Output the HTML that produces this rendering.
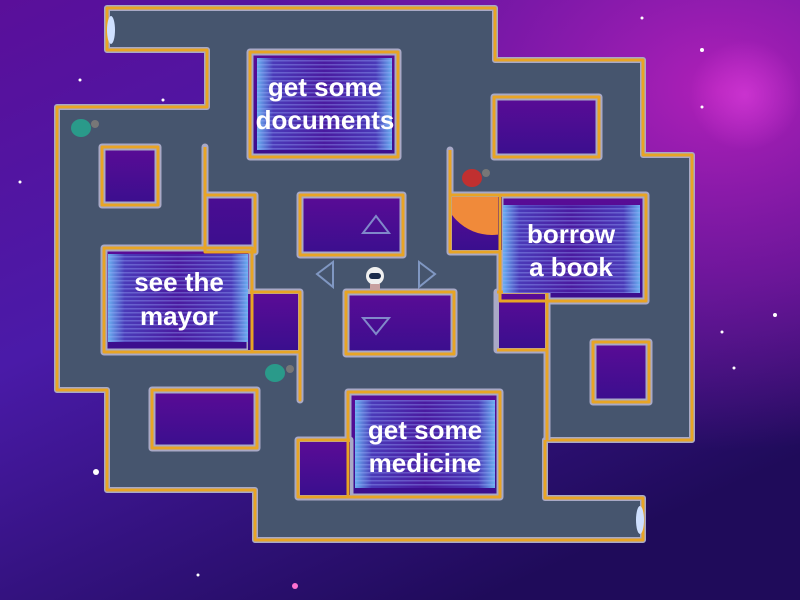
<!DOCTYPE html>
<html><head><meta charset="utf-8"><style>
html,body{margin:0;padding:0;width:800px;height:600px;overflow:hidden;background:#3a1290}
svg{display:block}
.t{font-family:"Liberation Sans Narrow","Liberation Sans",sans-serif;font-weight:bold;fill:#fff;font-size:26px;text-anchor:middle}
</style></head><body>
<svg width="800" height="600" viewBox="0 0 800 600" xmlns="http://www.w3.org/2000/svg">
<defs>
<linearGradient id="bg" x1="0" y1="0" x2="0.6" y2="1">
<stop offset="0" stop-color="#5a0f9a"/><stop offset="0.45" stop-color="#4a1aa8"/><stop offset="1" stop-color="#1f0b5a"/>
</linearGradient>
<radialGradient id="mag" cx="0.9" cy="0.15" r="0.6">
<stop offset="0" stop-color="#b020b8"/><stop offset="0.5" stop-color="#8a18a8" stop-opacity="0.7"/><stop offset="1" stop-color="#8a18a8" stop-opacity="0"/>
</radialGradient>
<radialGradient id="glow" cx="0.5" cy="0.5" r="0.5">
<stop offset="0" stop-color="#e040e0" stop-opacity="0.6"/><stop offset="1" stop-color="#e040e0" stop-opacity="0"/>
</radialGradient>
<linearGradient id="hole" x1="0" y1="0" x2="0" y2="1">
<stop offset="0" stop-color="#5a0c96"/><stop offset="1" stop-color="#3a0e8e"/>
</linearGradient>
<linearGradient id="pan" x1="0" y1="0" x2="1" y2="0">
<stop offset="0" stop-color="#6ab0f0"/><stop offset="0.12" stop-color="#4a3ab8"/><stop offset="0.5" stop-color="#4a1aa0"/><stop offset="0.88" stop-color="#4a3ab8"/><stop offset="1" stop-color="#6ab0f0"/>
</linearGradient>
<pattern id="str" width="4" height="4" patternUnits="userSpaceOnUse"><rect width="4" height="1.5" fill="#a0b0ff" opacity="0.35"/></pattern>
<clipPath id="pc"><rect x="452" y="197" width="46" height="53"/></clipPath>
</defs>
<rect width="800" height="600" fill="url(#bg)"/>
<rect width="800" height="600" fill="url(#mag)"/>
<circle cx="745" cy="95" r="55" fill="url(#glow)"/>
<g fill="#fff">
<circle cx="80" cy="80" r="1.5"/><circle cx="163" cy="100" r="1.5"/><circle cx="20" cy="182" r="1.5"/><circle cx="702" cy="50" r="2"/><circle cx="642" cy="18" r="1.5"/><circle cx="702" cy="107" r="1.5"/><circle cx="775" cy="315" r="2"/><circle cx="722" cy="332" r="1.5"/><circle cx="734" cy="368" r="1.5"/><circle cx="96" cy="472" r="3"/><circle cx="198" cy="575" r="1.5"/><circle cx="295" cy="586" r="3" fill="#ff70d0"/>
</g>
<polygon points="107,8 495,8 495,60 643,60 643,155 692,155 692,440 545,440 545,498 643,498 643,540 255,540 255,490 107,490 107,390 57,390 57,107 207,107 207,50 107,50" fill="#46556e" stroke="#a9a9c6" stroke-width="6" stroke-linejoin="round"/>
<polygon points="107,8 495,8 495,60 643,60 643,155 692,155 692,440 545,440 545,498 643,498 643,540 255,540 255,490 107,490 107,390 57,390 57,107 207,107 207,50 107,50" fill="none" stroke="#e8a424" stroke-width="3" stroke-linejoin="round"/>
<g stroke="#a9a9c6" stroke-width="7" stroke-linejoin="round" fill="url(#hole)">
<rect x="102" y="147" width="56" height="58"/>
<rect x="250" y="52" width="148" height="105"/>
<polygon points="205,147 205,195 255,195 255,252 205,252 205,195"/>
<rect x="300" y="195" width="103" height="60"/>
<rect x="494" y="97" width="105" height="60"/>
<polygon points="450,150 450,252 500,252 500,195 450,195"/>
<rect x="500" y="195" width="146" height="106"/>
<polygon points="497,292 547,292 547,402 547,350 497,350"/>
<rect x="104" y="248" width="148" height="104"/>
<polygon points="250,292 300,292 300,400 300,352 250,352"/>
<rect x="346" y="292" width="108" height="62"/>
<rect x="593" y="342" width="56" height="60"/>
<rect x="152" y="390" width="105" height="58"/>
<rect x="348" y="392" width="152" height="105"/>
<rect x="298" y="440" width="52" height="57"/>
<line x1="547" y1="380" x2="547" y2="440"/>
</g>
<g fill="url(#hole)">
<rect x="452" y="197" width="50" height="53"/>
<rect x="499" y="294" width="46" height="54"/>
<rect x="248" y="294" width="50" height="56"/>
<rect x="300" y="442" width="50" height="53"/>
</g>
<circle cx="492" cy="185" r="50" fill="#f08a3a" clip-path="url(#pc)"/>
<g stroke="#e8a424" stroke-width="3" fill="none" stroke-linejoin="round">
<rect x="102" y="147" width="56" height="58"/>
<rect x="250" y="52" width="148" height="105"/>
<polyline points="205,147 205,195 255,195 255,252 205,252 205,195"/>
<rect x="300" y="195" width="103" height="60"/>
<rect x="494" y="97" width="105" height="60"/>
<polyline points="450,150 450,252 500,252"/>
<polyline points="450,195 500,195"/>
<rect x="500" y="195" width="146" height="106"/>
<polyline points="497,292 547,292 547,402 547,350 497,350"/>
<rect x="104" y="248" width="148" height="104"/>
<polyline points="250,292 300,292 300,400 300,352 250,352"/>
<rect x="346" y="292" width="108" height="62"/>
<rect x="593" y="342" width="56" height="60"/>
<rect x="152" y="390" width="105" height="58"/>
<rect x="348" y="392" width="152" height="105"/>
<polyline points="350,440 298,440 298,497 350,497"/>
<line x1="547" y1="380" x2="547" y2="440"/>
</g>
<g>
<rect x="257" y="58" width="135" height="92" fill="url(#pan)"/><rect x="257" y="58" width="135" height="92" fill="url(#str)"/>
<rect x="503" y="205" width="137" height="88" fill="url(#pan)"/><rect x="503" y="205" width="137" height="88" fill="url(#str)"/>
<rect x="108" y="254" width="140" height="88" fill="url(#pan)"/><rect x="108" y="254" width="140" height="88" fill="url(#str)"/>
<rect x="355" y="400" width="140" height="88" fill="url(#pan)"/><rect x="355" y="400" width="140" height="88" fill="url(#str)"/>
</g>
<text class="t" x="325" y="96">get some</text><text class="t" x="325" y="129">documents</text>
<text class="t" x="571" y="243">borrow</text><text class="t" x="571" y="276">a book</text>
<text class="t" x="179" y="291">see the</text><text class="t" x="179" y="325">mayor</text>
<text class="t" x="425" y="439">get some</text><text class="t" x="425" y="472">medicine</text>
<g fill="none" stroke="#8fa8d8" stroke-width="2" opacity="0.8">
<polygon points="376,216 363,233 389,233"/>
<polygon points="363,318 389,318 376,334"/>
<polygon points="333,262 333,287 317,274"/>
<polygon points="419,262 419,287 435,274"/>
</g>
<ellipse cx="111" cy="30" rx="4" ry="14" fill="#cfe0ff"/>
<ellipse cx="640" cy="520" rx="4" ry="14" fill="#cfe0ff"/>
<g><ellipse cx="81" cy="128" rx="10" ry="9" fill="#2a9a8a"/><circle cx="95" cy="124" r="4" fill="#777"/></g>
<g><ellipse cx="275" cy="373" rx="10" ry="9" fill="#2a9a8a"/><circle cx="290" cy="369" r="4" fill="#777"/></g>
<g><ellipse cx="472" cy="178" rx="10" ry="9" fill="#c03030"/><circle cx="486" cy="173" r="4" fill="#777"/></g>
<g><circle cx="375" cy="276" r="9" fill="#f0f0f0"/><rect x="369" y="273" width="12" height="6" rx="3" fill="#1a2a4a"/><rect x="370" y="284" width="10" height="6" fill="#c8a0a0"/></g>
</svg>
</body></html>
